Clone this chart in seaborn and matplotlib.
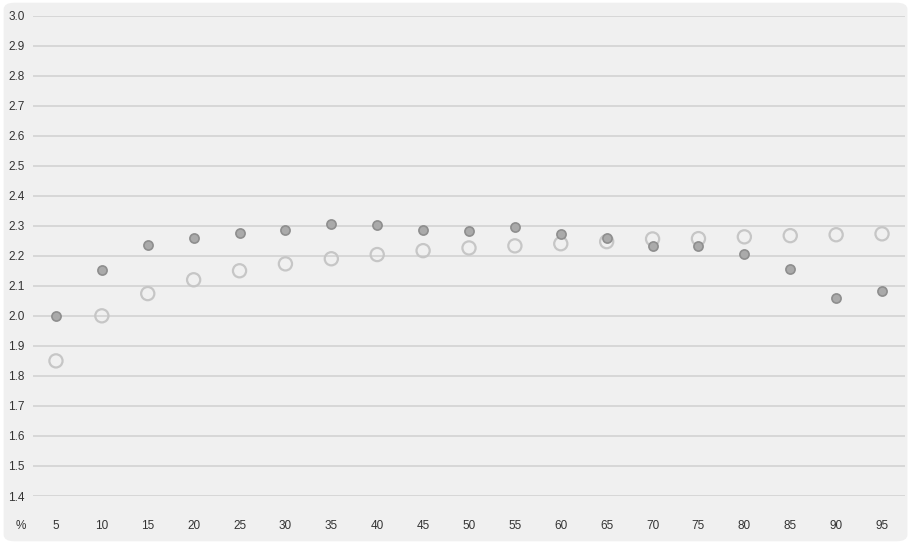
import pandas as pd
import seaborn as sns
from matplotlib import pyplot as plt
from matplotlib.patches import FancyBboxPatch

# data
percent = ["5", "10", "15", "20", "25", "30", "35", "40", "45", "50",
           "55", "60", "65", "70", "75", "80", "85", "90", "95"]
filled_vals = [2.00, 2.153, 2.237, 2.26, 2.277, 2.287, 2.306, 2.303, 2.287, 2.281,
               2.297, 2.274, 2.26, 2.234, 2.234, 2.207, 2.156, 2.06, 2.084]
hollow_vals = [1.85, 2.00, 2.074, 2.12, 2.15, 2.173, 2.19, 2.204, 2.217, 2.226,
               2.233, 2.24, 2.247, 2.256, 2.257, 2.263, 2.267, 2.27, 2.273]
y_ticks = [1.4, 1.5, 1.6, 1.7, 1.8, 1.9, 2.0, 2.1, 2.2, 2.3, 2.4, 2.5, 2.6, 2.7, 2.8, 2.9, 3.0]

sns.set_style("white")
plt.rcParams["font.family"] = ["Liberation Sans", "DejaVu Sans"]

df_f = pd.DataFrame({"pct": percent, "value": filled_vals})
df_h = pd.DataFrame({"pct": percent, "value": hollow_vals})

fig = plt.figure(figsize=(9.12, 5.44), dpi=100)
fig.patch.set_facecolor("white")
bg = FancyBboxPatch((0.004, 0.005), 0.991, 0.99, boxstyle="round,pad=0,rounding_size=0.012",
                    transform=fig.transFigure, facecolor="#f0f0f0", edgecolor="none", zorder=-10)
fig.patches.append(bg)

ax = fig.add_axes([0.0362, 0.0882, 0.9561, 0.8833])
ax.set_facecolor("none")

sns.stripplot(ax=ax, data=df_h, x="pct", y="value", order=percent, jitter=False,
              color="#c6c6c6", size=9.5, linewidth=1.6, edgecolor="#c6c6c6", zorder=3)
for c in ax.collections:
    c.set_facecolor("none")
    c.set_edgecolor("#c6c6c6")
    c.set_clip_on(False)
n = len(ax.collections)
sns.stripplot(ax=ax, data=df_f, x="pct", y="value", order=percent, jitter=False,
              color="#aaaaaa", size=6.6, linewidth=1.2, edgecolor="#8e8e8e", zorder=4)
for c in ax.collections[n:]:
    c.set_clip_on(False)

ax.set_ylim(1.4, 3.0)
ax.set_xlim(-0.5, len(percent) - 0.5)
ax.set_yticks(y_ticks)
ax.set_yticklabels([f"{v:.1f}" for v in y_ticks])
ax.yaxis.grid(True, color="#d5d5d5", linewidth=1.3)
ax.set_axisbelow(True)
for s in ax.spines.values():
    s.set_visible(False)
ax.tick_params(axis="both", length=0, labelsize=8.5, colors="#333333")
ax.tick_params(axis="y", pad=6)
ax.tick_params(axis="x", pad=17)
ax.set_xlabel("")
ax.set_ylabel("")
fig.text(21 / 912, 1 - 526 / 544, "%", ha="center", va="center", fontsize=8.5, color="#333333")

plt.savefig("out.png", dpi=100)
